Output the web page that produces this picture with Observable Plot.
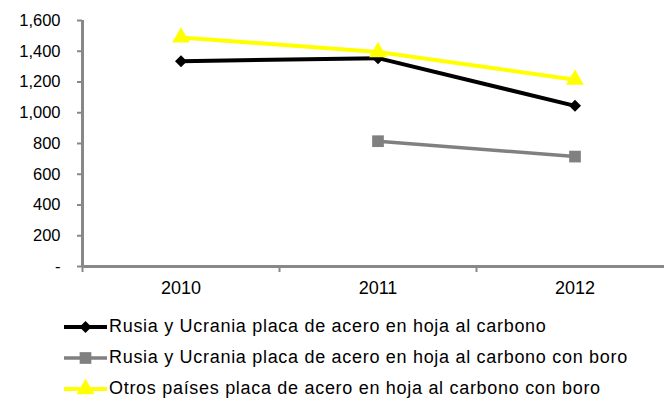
<!DOCTYPE html>
<html>
<head>
<meta charset="utf-8">
<script src="https://cdn.jsdelivr.net/npm/d3@7"></script>
<script src="https://cdn.jsdelivr.net/npm/@observablehq/plot@0.6"></script>
<style>
  html, body { margin: 0; padding: 0; background: #fff; }
  body { width: 664px; height: 405px; overflow: hidden; font-family: "Liberation Sans", Arial, sans-serif; }
  #legend { padding-top: 11px; }
  .row { display: flex; align-items: center; height: 31px; }
  .row svg { margin-left: 64px; margin-right: 2px; }
  .row span { font-size: 18px; color: #000; letter-spacing: 0.7px; }
</style>
</head>
<body>
<div id="chart"></div>
<div id="legend"></div>
<script>
const years = [2010, 2011, 2012];
const seriesNames = [
  "Rusia y Ucrania placa de acero en hoja al carbono",
  "Rusia y Ucrania placa de acero en hoja al carbono con boro",
  "Otros países placa de acero en hoja al carbono con boro"
];
const rusiaCarbono = [1335, 1355, 1045];
const rusiaBoro = [null, 815, 715];
const otrosBoro = [1490, 1395, 1215];
const yTicks = [0, 200, 400, 600, 800, 1000, 1200, 1400, 1600];

const colors = ["#000000", "#808080", "#FFFF00"];
const symbols = ["diamond2", "square", "triangle"];
const radii = [5.4, 6.6, 6.6];
const widths = [4, 3.5, 4];

const valuesBySeries = [rusiaCarbono, rusiaBoro, otrosBoro];
const data = [];
valuesBySeries.forEach((vals, s) => {
  vals.forEach((v, i) => {
    if (v != null) data.push({series: seriesNames[s], idx: s, year: years[i], value: v});
  });
});

const W = 664, left = 82, band = 197;
const xDomain = [years[0] - 0.5, years[0] - 0.5 + (W - left) / band];
const boundaries = years.map(y => y - 0.5);

const marks = [
  Plot.axisY({ticks: yTicks, tickSize: 5, tickPadding: 17, stroke: "#888", strokeWidth: 2, label: null,
    fontSize: 16.5, tickFormat: d => d === 0 ? "-" : d3.format(",")(d), fill: "#000"}),
  Plot.axisX({ticks: boundaries, tickSize: 6, stroke: "#888", strokeWidth: 2, label: null, tickFormat: () => "", anchor: "bottom"}),
  Plot.axisX({ticks: years, tickSize: 0, tickPadding: 15, label: null, fontSize: 18, tickFormat: d => String(d), fill: "#000", anchor: "bottom"}),
  Plot.ruleY([0], {stroke: "#888", strokeWidth: 3}),
  Plot.ruleX([xDomain[0]], {y1: 0, y2: 1600, stroke: "#888", strokeWidth: 3})
];
seriesNames.forEach((name, s) => {
  const d = data.filter(r => r.idx === s);
  marks.push(Plot.line(d, {x: "year", y: "value", stroke: colors[s], strokeWidth: widths[s]}));
  marks.push(Plot.dot(d, {x: "year", y: "value", symbol: () => symbols[s], fill: colors[s], stroke: "none", r: radii[s]}));
});

const chart = Plot.plot({
  width: W,
  height: 300,
  marginLeft: left,
  marginRight: 0,
  marginTop: 20,
  marginBottom: 34,
  x: {type: "linear", domain: xDomain, axis: null},
  y: {domain: [0, 1600], axis: null},
  symbol: {type: "identity"},
  style: {fontFamily: "'Liberation Sans', Arial, sans-serif", fontSize: "16px", color: "#000", background: "#fff"},
  marks
});
document.getElementById("chart").appendChild(chart);

const legend = document.getElementById("legend");
seriesNames.forEach((name, s) => {
  const row = document.createElement("div");
  row.className = "row";
  const sw = 43, sh = 20;
  const svg = d3.create("svg").attr("width", sw).attr("height", sh);
  svg.append("line").attr("x1", 0).attr("x2", sw).attr("y1", sh / 2).attr("y2", sh / 2)
    .attr("stroke", colors[s]).attr("stroke-width", widths[s]);
  const symMap = {diamond2: d3.symbolDiamond2, square: d3.symbolSquare, triangle: d3.symbolTriangle};
  svg.append("path").attr("transform", `translate(${sw / 2},${sh / 2})`)
    .attr("d", d3.symbol(symMap[symbols[s]], Math.PI * radii[s] * radii[s])())
    .attr("fill", colors[s]);
  row.appendChild(svg.node());
  const span = document.createElement("span");
  span.textContent = name;
  row.appendChild(span);
  legend.appendChild(row);
});
</script>
</body>
</html>
